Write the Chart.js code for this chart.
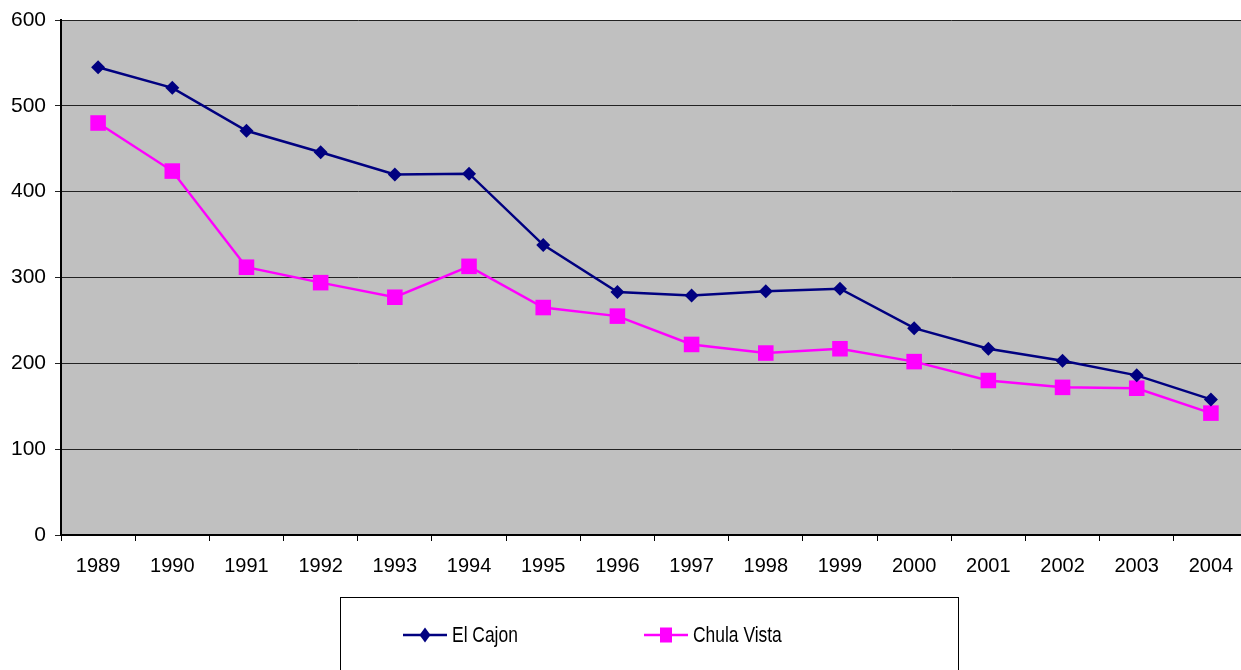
<!DOCTYPE html>
<html>
<head>
<meta charset="utf-8">
<script src="https://cdn.jsdelivr.net/npm/chart.js@4/dist/chart.umd.min.js"></script>
<style>
html,body{margin:0;padding:0;background:#fff;overflow:hidden;}
#wrap{position:absolute;left:0;top:0;width:1259px;height:670px;}
#c{display:block;width:1259px;height:670px;}
</style>
</head>
<body>
<div id="wrap"><canvas id="c" width="1259" height="670"></canvas></div>
<script>
const years = ['1989','1990','1991','1992','1993','1994','1995','1996','1997','1998','1999','2000','2001','2002','2003','2004'];
const elCajon = [545, 521, 471, 446, 420, 421, 338, 283, 279, 284, 287, 241, 217, 203, 186, 158];
const chulaVista = [480, 424, 312, 294, 277, 313, 265, 255, 222, 212, 217, 202, 180, 172, 171, 142];
const seriesNames = ['El Cajon', 'Chula Vista'];
const yTicks = [0, 100, 200, 300, 400, 500, 600];

const FONT = 'Liberation Sans, Arial, sans-serif';

const bgPlugin = {
  id: 'bg',
  beforeDraw(chart) {
    const a = chart.chartArea, ctx = chart.ctx;
    ctx.save();
    ctx.fillStyle = '#C0C0C0';
    ctx.fillRect(a.left, a.top, a.right - a.left, a.bottom - a.top);
    ctx.restore();
  }
};

const legendPlugin = {
  id: 'customLegend',
  afterDraw(chart) {
    const ctx = chart.ctx;
    ctx.save();
    ctx.strokeStyle = '#000';
    ctx.lineWidth = 1;
    ctx.strokeRect(340.5, 597.5, 618, 120);
    const items = [
      {x: 403, color: '#000080', style: 'diamond', label: seriesNames[0]},
      {x: 644, color: '#FF00FF', style: 'square', label: seriesNames[1]}
    ];
    const y = 635;
    items.forEach(it => {
      ctx.strokeStyle = it.color;
      ctx.lineWidth = 2.5;
      ctx.beginPath();
      ctx.moveTo(it.x, y);
      ctx.lineTo(it.x + 44, y);
      ctx.stroke();
      ctx.fillStyle = it.color;
      const cx = it.x + 22;
      if (it.style === 'diamond') {
        ctx.beginPath();
        ctx.moveTo(cx, y - 7.5);
        ctx.lineTo(cx + 5.5, y);
        ctx.lineTo(cx, y + 7.5);
        ctx.lineTo(cx - 5.5, y);
        ctx.closePath();
        ctx.fill();
      } else {
        ctx.fillRect(cx - 6, y - 7.5, 12, 15);
      }
      ctx.fillStyle = '#000';
      ctx.font = '21px ' + FONT;
      ctx.textBaseline = 'middle';
      ctx.textAlign = 'left';
      ctx.save();
      ctx.translate(it.x + 49, y + 1);
      ctx.scale(0.83, 1.05);
      ctx.fillText(it.label, 0, 0);
      ctx.restore();
    });
    ctx.restore();
  }
};

new Chart(document.getElementById('c'), {
  type: 'line',
  data: {
    labels: years,
    datasets: [
      {
        label: seriesNames[0],
        data: elCajon,
        borderColor: '#000080',
        backgroundColor: '#000080',
        borderWidth: 2.5,
        pointStyle: 'rectRot',
        pointRadius: 7,
        pointHoverRadius: 7,
        pointBorderWidth: 0,
        tension: 0
      },
      {
        label: seriesNames[1],
        data: chulaVista,
        borderColor: '#FF00FF',
        backgroundColor: '#FF00FF',
        borderWidth: 2.5,
        pointStyle: 'rect',
        pointRadius: 11,
        pointHoverRadius: 11,
        pointBorderWidth: 0,
        tension: 0
      }
    ]
  },
  options: {
    responsive: false,
    devicePixelRatio: 1,
    animation: false,
    events: [],
    layout: {padding: {top: 20, right: 0, left: 0, bottom: 0}},
    plugins: {legend: {display: false}, tooltip: {enabled: false}},
    scales: {
      x: {
        type: 'category',
        offset: true,
        grid: {offset: true, drawOnChartArea: false, color: '#000', tickLength: 6, tickWidth: 1},
        border: {color: '#000', width: 2},
        ticks: {color: '#000', font: {family: FONT, size: 20}, padding: 13, maxRotation: 0, autoSkip: false},
        afterFit(s) { s.height = 135; s.paddingLeft = 0; s.paddingRight = 0; }
      },
      y: {
        min: 0, max: 600,
        afterBuildTicks(s) { s.ticks = yTicks.map(v => ({value: v})); },
        grid: {color: '#222', lineWidth: 1, tickLength: 6},
        border: {color: '#000', width: 2},
        ticks: {color: '#000', font: {family: FONT, size: 21}, padding: 9},
        afterFit(s) { s.width = 61; s.paddingTop = 0; s.paddingBottom = 0; }
      }
    }
  },
  plugins: [bgPlugin, legendPlugin]
});
</script>
</body>
</html>
